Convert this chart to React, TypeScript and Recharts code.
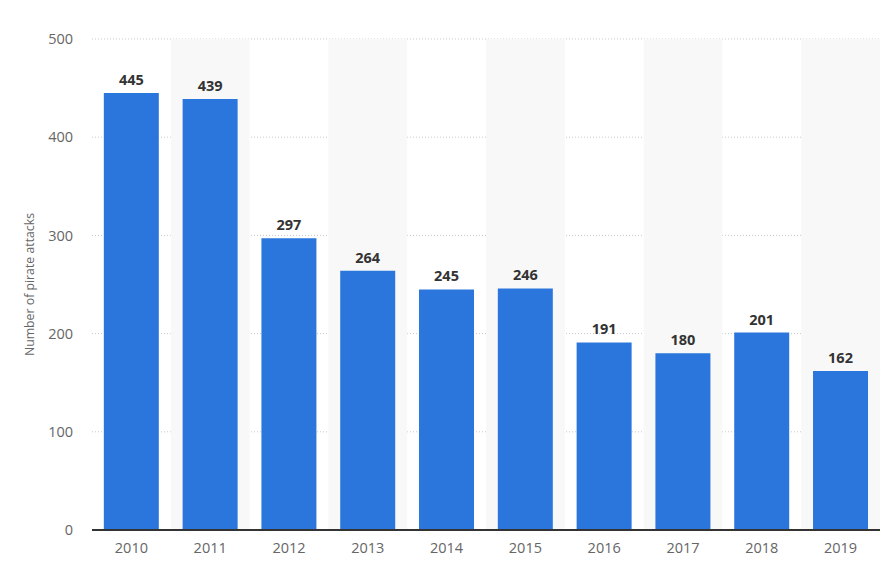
import { Bar, BarChart, CartesianGrid, LabelList, ReferenceArea, XAxis, YAxis } from "recharts";

const years = ["2010", "2011", "2012", "2013", "2014", "2015", "2016", "2017", "2018", "2019"];
const attacks = [445, 439, 297, 264, 245, 246, 191, 180, 201, 162];
const yTicks = [0, 100, 200, 300, 400, 500];
// colonnes grisées une sur deux
const shadedYears = ["2011", "2013", "2015", "2017", "2019"];

const data = years.map((year, i) => ({ year, value: attacks[i] }));

const FONT = "'Open Sans', 'Noto Sans', sans-serif";

export default function App() {
  return (
    <div style={{ position: "absolute", left: 0, top: 0, fontFamily: FONT }}>
      <BarChart
        width={896}
        height={573}
        data={data}
        margin={{ top: 39, right: 16, left: 0, bottom: 0 }}
        barCategoryGap="15%"
      >
        {shadedYears.map((y) => (
          <ReferenceArea
            key={y}
            x1={y}
            x2={y}
            y1={0}
            y2={500}
            fill="#f8f8f8"
            fillOpacity={1}
            stroke="none"
          />
        ))}
        <CartesianGrid vertical={false} stroke="#c8c8c8" strokeDasharray="1 2" />
        <XAxis
          dataKey="year"
          height={43}
          axisLine={{ stroke: "#333", strokeWidth: 2 }}
          tickLine={false}
          tickSize={0}
          tickMargin={13}
          tick={{ fill: "#666", fontSize: 14.5, fontFamily: FONT }}
        />
        <YAxis
          width={92}
          domain={[0, 500]}
          ticks={yTicks}
          axisLine={false}
          tickLine={false}
          tickSize={0}
          tickMargin={19}
          tick={{ fill: "#666", fontSize: 14.5, fontFamily: FONT }}
          label={{
            value: "Number of pirate attacks",
            angle: -90,
            position: "insideLeft",
            offset: 30,
            style: { textAnchor: "middle", fill: "#666", fontSize: 12.3, fontFamily: FONT },
          }}
        />
        <Bar dataKey="value" fill="#2a76dd" isAnimationActive={false}>
          <LabelList
            dataKey="value"
            position="top"
            offset={8}
            style={{ fill: "#333", fontSize: 14.5, fontWeight: 700, fontFamily: FONT }}
          />
        </Bar>
      </BarChart>
    </div>
  );
}
